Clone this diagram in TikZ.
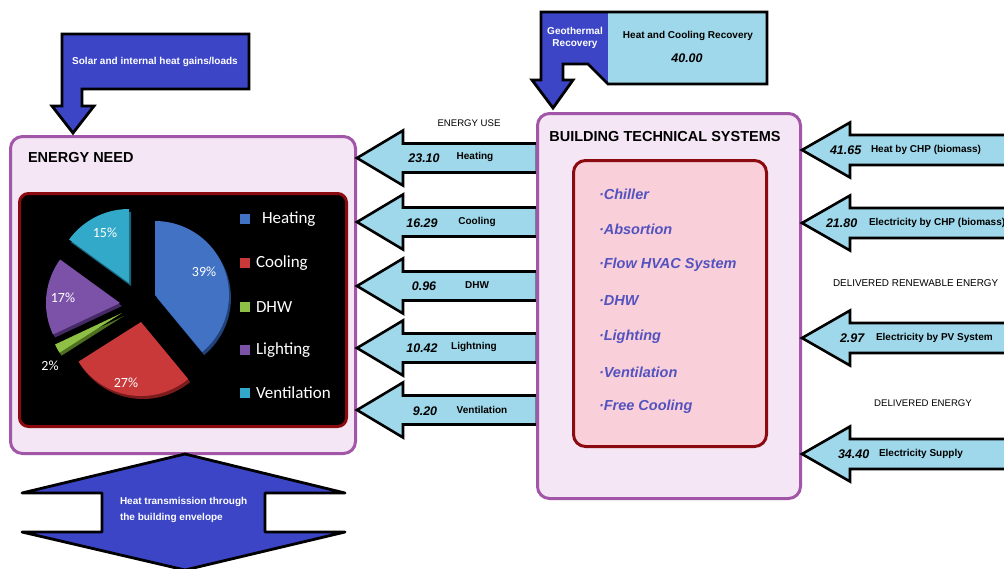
\documentclass[tikz,border=0pt]{standalone}
\usepackage{fontspec}
\setmainfont{Liberation Sans}
\newfontfamily\calfont{Carlito}
\definecolor{gblue}{HTML}{3B45C6}
\definecolor{lblue}{HTML}{9FD8EA}
\definecolor{lav}{HTML}{F4E6F5}
\definecolor{purp}{HTML}{A256A8}
\definecolor{dred}{HTML}{8B0A10}
\definecolor{pinkf}{HTML}{F9D0DA}
\definecolor{itemc}{HTML}{5352BE}
\definecolor{pheat}{HTML}{4272C4}
\definecolor{pheatd}{HTML}{22427A}
\definecolor{pcool}{HTML}{C9393A}
\definecolor{pcoold}{HTML}{7A1C1C}
\definecolor{pdhw}{HTML}{8DC044}
\definecolor{pdhwd}{HTML}{4F7020}
\definecolor{plight}{HTML}{7B52A8}
\definecolor{plightd}{HTML}{452A66}
\definecolor{pvent}{HTML}{33A9C9}
\definecolor{pventd}{HTML}{1A6278}
\tikzset{
  bigbox/.style={draw=purp, fill=lav, line width=3pt, rounded corners=12pt, anchor=north west, inner sep=0pt},
  innerbox/.style={draw=dred, line width=3pt, rounded corners=12pt, anchor=north west, inner sep=0pt},
  flow/.style={draw=black, fill=lblue, line width=2.6pt, line join=miter},
  bluearrow/.style={draw=black, fill=gblue, line width=2.8pt, line join=miter},
  txt/.style={inner sep=0pt, outer sep=0pt},
  lbl/.style={txt, font=\fontsize{10}{12}\selectfont\bfseries},
  wlbl/.style={lbl, text=white},
  num/.style={txt, font=\fontsize{12.5}{14}\selectfont\bfseries\itshape},
  capt/.style={txt, font=\fontsize{9.6}{11}\selectfont},
  ttl/.style={txt, font=\fontsize{14.5}{16}\selectfont\bfseries},
  itm/.style={txt, font=\fontsize{14.5}{16}\selectfont\bfseries\itshape, text=itemc, anchor=west},
  leg/.style={txt, font=\calfont\fontsize{17}{19}\selectfont, text=white, anchor=west},
  pct/.style={txt, font=\calfont\fontsize{14}{16}\selectfont, text=white},
}
% left-pointing arrow: name, tip x, tail x, centre y
\newcommand\LArrow[4]{%
  \draw[flow] (#2,#4) -- (#2+46,#4-27.5) -- (#2+46,#4-14.5) -- (#3,#4-14.5)
    -- (#3,#4+14.5) -- (#2+46,#4+14.5) -- (#2+46,#4+27.5) -- cycle;
  \coordinate (#1) at (#2,#4);}
% right-side arrow (pointing left): name, tip x, tail x, centre y
\newcommand\RArrow[4]{%
  \draw[flow] (#2,#4) -- (#2+48,#4-27.5) -- (#2+48,#4-15) -- (#3,#4-15)
    -- (#3,#4+15) -- (#2+48,#4+15) -- (#2+48,#4+27.5) -- cycle;
  \coordinate (#1) at (#2,#4);}
% pie slice: apex x, apex y, start, end, colour, dark colour
\newcommand\PSlice[6]{%
  \fill[#6] (#1+2,#2+3) -- plot[domain=#3:#4, samples=40] ({#1+2+74*cos(\x)},{#2+3+74*sin(\x)}) -- cycle;
  \fill[#5] (#1,#2) -- plot[domain=#3:#4, samples=40] ({#1+74*cos(\x)},{#2+74*sin(\x)}) -- cycle;}
\begin{document}
\begin{tikzpicture}[x=1pt,y=-1pt]
\useasboundingbox (0,0) rectangle (1004,568);
\fill[white] (0,0) rectangle (1004,568);

% ---------- ENERGY NEED box ----------
\node[bigbox, minimum width=345pt, minimum height=317pt] (need) at (9,135) {};
\node[ttl, anchor=west] (needt) at (28,158) {ENERGY NEED};
\node[innerbox, fill=black, rounded corners=9pt, minimum width=327pt, minimum height=233pt] (panel) at (18,192) {};

% pie
\PSlice{155}{295}{-90}{50.4}{pheat}{pheatd}
\PSlice{141}{322}{50.4}{147.6}{pcool}{pcoold}
\PSlice{122}{313}{147.6}{154.8}{pdhw}{pdhwd}
\PSlice{120}{303}{154.8}{216}{plight}{plightd}
\PSlice{129}{283}{216}{270}{pvent}{pventd}
\node[pct] (p15) at (105,233) {15\%};
\node[pct] (p39) at (204,272) {39\%};
\node[pct] (p17) at (63,298) {17\%};
\node[pct] (p2) at (50,366) {2\%};
\node[pct] (p27) at (126,383) {27\%};

% legend
\fill[pheat] (240,214) rectangle (250,224);
\fill[pcool] (240,258) rectangle (250,268);
\fill[pdhw] (240,302) rectangle (250,312);
\fill[plight] (240,345) rectangle (250,355);
\fill[pvent] (240,388) rectangle (250,398);
\node[leg] (lh) at (262,219) {Heating};
\node[leg] (lc) at (256,263) {Cooling};
\node[leg] (ld) at (256,307) {DHW};
\node[leg] (ll) at (256,350) {Lighting};
\node[leg] (lv) at (256,393) {Ventilation};

% ---------- solar arrow ----------
\draw[bluearrow] (62,34) -- (249,34) -- (249,89) -- (82,89) -- (82,106) -- (94,106)
  -- (73,133) -- (52,106) -- (62,106) -- cycle;
\node[wlbl] (solar) at (155,62) {Solar and internal heat gains/loads};

% ---------- energy use arrows ----------
\node[capt] (use) at (469,123) {ENERGY USE};
\LArrow{a1}{357}{537}{158}
\LArrow{a2}{357}{537}{222}
\LArrow{a3}{357}{537}{286}
\LArrow{a4}{357}{537}{348}
\LArrow{a5}{357}{537}{410}
\node[num] (n1) at (424,158) {23.10};
\node[lbl] (t1) at (475,157) {Heating};
\node[num] (n2) at (422,223) {16.29};
\node[lbl] (t2) at (477,222) {Cooling};
\node[num] (n3) at (424,286) {0.96};
\node[lbl] (t3) at (477,285) {DHW};
\node[num] (n4) at (422,348) {10.42};
\node[lbl] (t4) at (474,347) {Lightning};
\node[num] (n5) at (425,411) {9.20};
\node[lbl] (t5) at (482,410) {Ventilation};

% ---------- BUILDING TECHNICAL SYSTEMS ----------
\node[bigbox, minimum width=263pt, minimum height=385pt] (bts) at (536,112) {};
\node[ttl] (btst) at (665,137) {BUILDING TECHNICAL SYSTEMS};
\node[innerbox, fill=pinkf, minimum width=193pt, minimum height=286pt] (sys) at (572,159) {};
\node[itm] (i1) at (599,194) {·Chiller};
\node[itm] (i2) at (599,229) {·Absortion};
\node[itm] (i3) at (599,265) {·Flow HVAC System};
\node[itm] (i4) at (599,301) {·DHW};
\node[itm] (i5) at (599,337) {·Lighting};
\node[itm] (i6) at (599,372) {·Ventilation};
\node[itm] (i7) at (599,407) {·Free Cooling};

% ---------- geothermal ----------
\fill[gblue] (541,12) -- (767,12) -- (767,84) -- (608,84) -- (588,64) -- (563,64) -- (563,80)
  -- (573,80) -- (553,108) -- (532,80) -- (541,80) -- cycle;
\fill[lblue] (608,12) rectangle (767,84);
\draw[line width=2.8pt, line join=miter] (541,12) -- (767,12) -- (767,84) -- (608,84) -- (588,64)
  -- (563,64) -- (563,80) -- (573,80) -- (553,108) -- (532,80) -- (541,80) -- cycle;
\node[wlbl, align=center, font=\fontsize{10}{12}\selectfont\bfseries] (geo) at (575,38) {Geothermal\\Recovery};
\node[lbl] (hcr) at (688,36) {Heat and Cooling Recovery};
\node[num] (hcrv) at (687,58) {40.00};

% ---------- right arrows ----------
\RArrow{b1}{802}{1015}{150}
\RArrow{b2}{802}{1015}{223}
\RArrow{b3}{802}{1015}{338}
\RArrow{b4}{802}{1015}{454}
\node[num, anchor=west] (m1) at (830,150) {41.65};
\node[lbl, anchor=west] (r1) at (871,150) {Heat by CHP (biomass)};
\node[num, anchor=west] (m2) at (826,223) {21.80};
\node[lbl, anchor=west] (r2) at (869,223) {Electricity by CHP (biomass)};
\node[capt, anchor=west, font=\fontsize{9.9}{12}\selectfont] (ren) at (833,283) {DELIVERED RENEWABLE ENERGY};
\node[num, anchor=west] (m3) at (840,338) {2.97};
\node[lbl, anchor=west] (r3) at (876,338) {Electricity by PV System};
\node[capt] (del) at (923,403) {DELIVERED ENERGY};
\node[num, anchor=west] (m4) at (838,454) {34.40};
\node[lbl, anchor=west] (r4) at (879,454) {Electricity Supply};

% ---------- bottom double arrow ----------
\draw[bluearrow, line join=round] (185,454) -- (345,493) -- (265,493) -- (265,532) -- (345,532) -- (185,570)
  -- (22,532) -- (102,532) -- (102,493) -- (22,493) -- cycle;
\node[wlbl, align=left, anchor=north west, font=\fontsize{10}{16}\selectfont\bfseries] (env) at (120,497) {Heat transmission through\\the building envelope};
\end{tikzpicture}
\end{document}
